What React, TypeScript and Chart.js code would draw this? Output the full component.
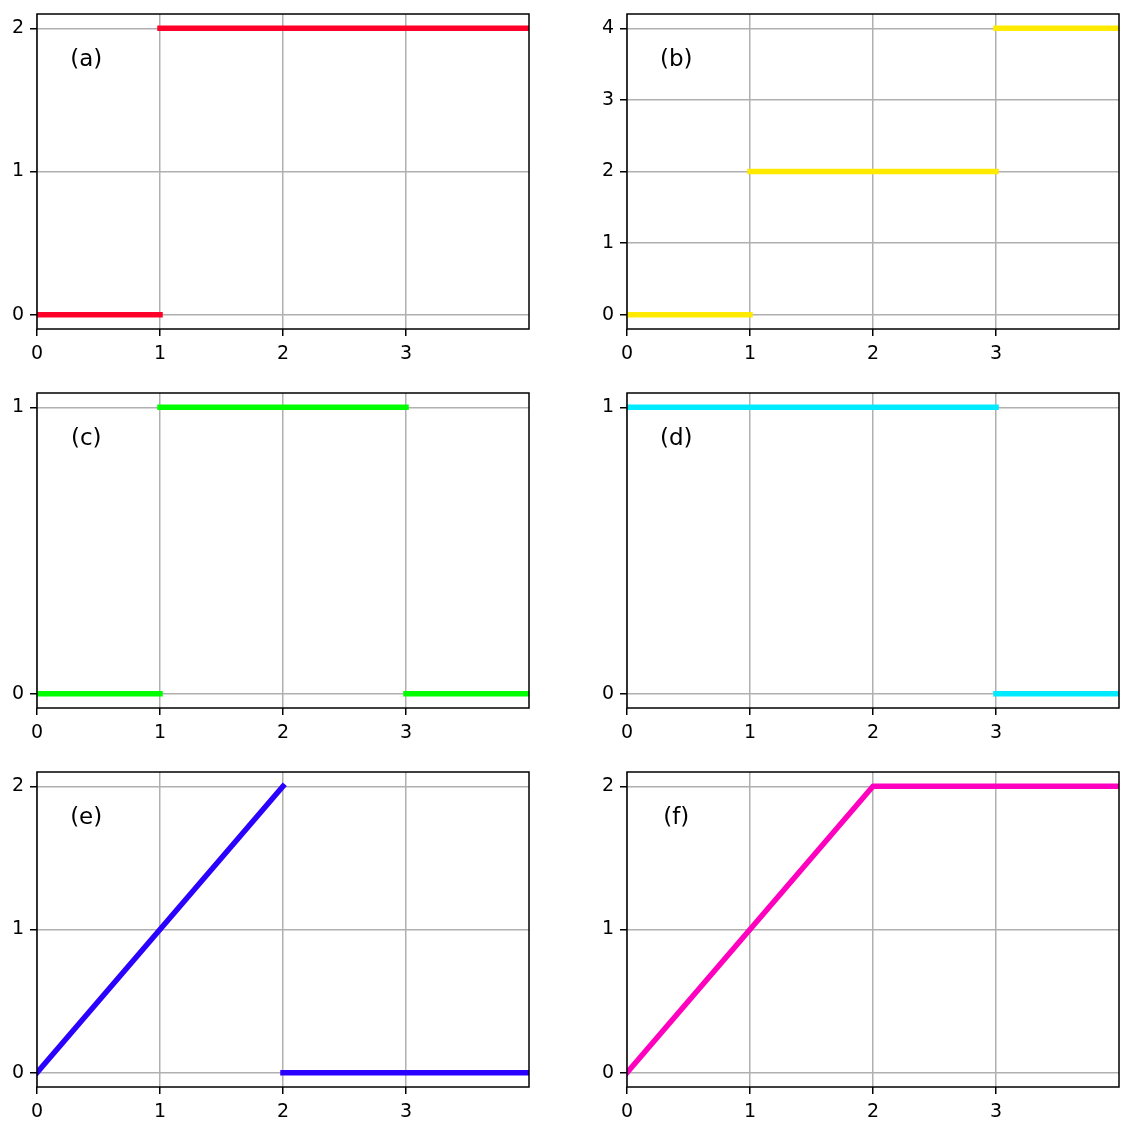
import React, { useEffect, useRef } from 'react';
import { Chart, registerables } from 'chart.js';

Chart.register(...registerables);

Chart.defaults.font.family = '"DejaVu Sans", sans-serif';
Chart.defaults.font.size = 19;
Chart.defaults.color = '#000';

// shared x ticks
const X_TICKS = [0, 1, 2, 3];

// (a) – null marks a break between segments
const xA = [0, 1, null, 1, 4];
const yA = [0, 0, null, 2, 2];
const ticksA = [0, 1, 2];

// (b)
const xB = [0, 1, null, 1, 3, null, 3, 4];
const yB = [0, 0, null, 2, 2, null, 4, 4];
const ticksB = [0, 1, 2, 3, 4];

// (c)
const xC = [0, 1, null, 1, 3, null, 3, 4];
const yC = [0, 0, null, 1, 1, null, 0, 0];
const ticksC = [0, 1];

// (d)
const xD = [0, 3, null, 3, 4];
const yD = [1, 1, null, 0, 0];
const ticksD = [0, 1];

// (e)
const xE = [0, 2, null, 2, 4];
const yE = [0, 2, null, 0, 0];
const ticksE = [0, 1, 2];

// (f)
const xF = [0, 2, 4];
const yF = [0, 2, 2];
const ticksF = [0, 1, 2];

const Y_AXIS_W = 37;
const X_AXIS_H = 46;
const PAD_TOP = 14;
const PAD_RIGHT = 10;
const PLOT_W = 492;
const PLOT_H = 315;
const COL_LEFT = [37, 627];
const ROW_TOP = [14, 393, 772];

const framePlugin = {
  id: 'frame',
  afterDraw(chart: any, _args: any, opts: any) {
    const { ctx, chartArea: a, scales } = chart;
    ctx.save();
    ctx.strokeStyle = '#000';
    ctx.lineWidth = 1.5;
    ctx.strokeRect(a.left, a.top, a.right - a.left, a.bottom - a.top);
    ctx.fillStyle = '#000';
    ctx.font = '23px "DejaVu Sans", sans-serif';
    ctx.textAlign = 'center';
    ctx.textBaseline = 'alphabetic';
    ctx.fillText(opts.text, scales.x.getPixelForValue(0.4), a.top + 52);
    ctx.restore();
  },
};

interface PanelProps {
  label: string;
  xs: (number | null)[];
  ys: (number | null)[];
  yMin: number;
  yMax: number;
  yTicks: number[];
  color: string;
  col: number;
  row: number;
}

const Panel: React.FC<PanelProps> = ({ label, xs, ys, yMin, yMax, yTicks, color, col, row }) => {
  const canvasRef = useRef<HTMLCanvasElement>(null);

  useEffect(() => {
    if (!canvasRef.current) return;
    const points = xs.map((x, i) => ({ x: x === null ? NaN : x, y: ys[i] }));
    const grid = {
      color: '#b0b0b0',
      lineWidth: 1.5,
      tickColor: '#000',
      tickLength: 7,
      tickWidth: 1.5,
    };
    const chart = new Chart(canvasRef.current, {
      type: 'line',
      data: {
        datasets: [{
          data: points as any,
          borderColor: color,
          borderWidth: 5.5,
          borderCapStyle: 'square',
          borderJoinStyle: 'round',
          pointRadius: 0,
          pointHoverRadius: 0,
          spanGaps: false,
          tension: 0,
          fill: false,
          clip: 0,
        }],
      },
      options: {
        animation: false,
        responsive: true,
        maintainAspectRatio: false,
        events: [],
        layout: { padding: { top: PAD_TOP, right: PAD_RIGHT, left: 0, bottom: 0 } },
        scales: {
          x: {
            type: 'linear',
            min: 0,
            max: 4,
            afterBuildTicks: (s: any) => { s.ticks = X_TICKS.map((v) => ({ value: v })); },
            afterFit: (s: any) => { s.height = X_AXIS_H; s.paddingLeft = 0; s.paddingRight = 0; },
            ticks: { padding: 7, maxRotation: 0, color: '#000' },
            grid,
            border: { display: false },
          },
          y: {
            type: 'linear',
            min: yMin,
            max: yMax,
            afterBuildTicks: (s: any) => { s.ticks = yTicks.map((v) => ({ value: v })); },
            afterFit: (s: any) => { s.width = Y_AXIS_W; s.paddingTop = 0; s.paddingBottom = 0; },
            ticks: { padding: 6, color: '#000' },
            grid,
            border: { display: false },
          },
        },
        plugins: {
          legend: { display: false },
          tooltip: { enabled: false },
          frame: { text: label },
        } as any,
      },
      plugins: [framePlugin],
    });
    return () => chart.destroy();
  }, [label, xs, ys, yMin, yMax, yTicks, color]);

  const left = COL_LEFT[col] - Y_AXIS_W;
  const top = ROW_TOP[row] - PAD_TOP;
  return (
    <div
      style={{
        position: 'absolute',
        left,
        top,
        width: Y_AXIS_W + PLOT_W + PAD_RIGHT,
        height: PAD_TOP + PLOT_H + X_AXIS_H,
      }}
    >
      <canvas ref={canvasRef} />
    </div>
  );
};

const App: React.FC = () => (
  <div style={{ position: 'absolute', left: 0, top: 0, width: 1138, height: 1135, background: '#fff' }}>
    <Panel label="(a)" xs={xA} ys={yA} yMin={-0.1} yMax={2.1} yTicks={ticksA} color="#ff0029" col={0} row={0} />
    <Panel label="(b)" xs={xB} ys={yB} yMin={-0.2} yMax={4.2} yTicks={ticksB} color="#ffea00" col={1} row={0} />
    <Panel label="(c)" xs={xC} ys={yC} yMin={-0.05} yMax={1.05} yTicks={ticksC} color="#00ff00" col={0} row={1} />
    <Panel label="(d)" xs={xD} ys={yD} yMin={-0.05} yMax={1.05} yTicks={ticksD} color="#00ebff" col={1} row={1} />
    <Panel label="(e)" xs={xE} ys={yE} yMin={-0.1} yMax={2.1} yTicks={ticksE} color="#2a00ff" col={0} row={2} />
    <Panel label="(f)" xs={xF} ys={yF} yMin={-0.1} yMax={2.1} yTicks={ticksF} color="#ff00bf" col={1} row={2} />
  </div>
);

export default App;
